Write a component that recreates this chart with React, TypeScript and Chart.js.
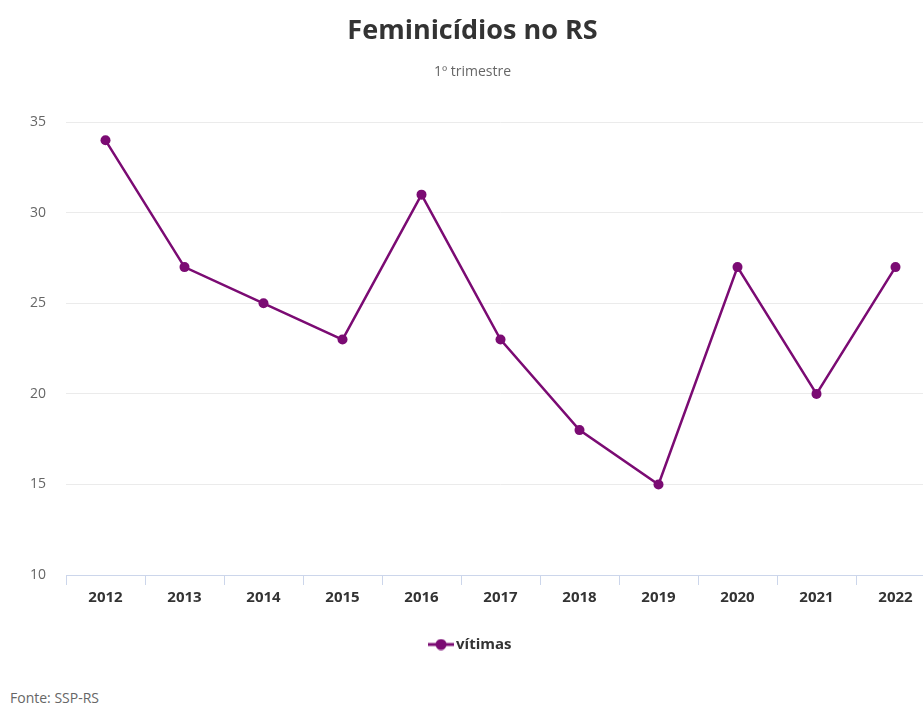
import React, { useEffect, useRef } from "react";
import { Chart, registerables } from "chart.js";

Chart.register(...registerables);

const years = ["2012", "2013", "2014", "2015", "2016", "2017", "2018", "2019", "2020", "2021", "2022"];
const victims = [34, 27, 25, 23, 31, 23, 18, 15, 27, 20, 27];
const yTicks = [10, 15, 20, 25, 30, 35];

const PURPLE = "#7b0b73";

function legendMarker(): HTMLCanvasElement {
  const c = document.createElement("canvas");
  c.width = 26;
  c.height = 12;
  const ctx = c.getContext("2d")!;
  ctx.strokeStyle = PURPLE;
  ctx.lineWidth = 3;
  ctx.beginPath();
  ctx.moveTo(0, 6);
  ctx.lineTo(26, 6);
  ctx.stroke();
  ctx.fillStyle = PURPLE;
  ctx.beginPath();
  ctx.arc(13, 6, 5.5, 0, Math.PI * 2);
  ctx.fill();
  return c;
}

export default function App() {
  const ref = useRef<HTMLCanvasElement | null>(null);

  useEffect(() => {
    if (!ref.current) return;
    const marker = legendMarker();
    const chart = new Chart(ref.current, {
      type: "line",
      data: {
        labels: years,
        datasets: [
          {
            label: "vítimas",
            data: victims,
            borderColor: PURPLE,
            backgroundColor: PURPLE,
            borderWidth: 2.5,
            pointRadius: 5,
            pointBackgroundColor: PURPLE,
            pointBorderWidth: 0,
            tension: 0,
          },
        ],
      },
      options: {
        responsive: false,
        animation: false,
        layout: { padding: { left: 10, right: 25, top: 3, bottom: 0 } },
        plugins: {
          title: {
            display: true,
            text: "Feminicídios no RS",
            color: "#333333",
            font: { family: "'Open Sans'", size: 27, weight: "bold" },
            padding: { top: 12, bottom: 16 },
          },
          subtitle: {
            display: true,
            text: "1º trimestre",
            color: "#666666",
            font: { family: "'Open Sans'", size: 14 },
            padding: { top: 0, bottom: 42 },
          },
          legend: {
            position: "bottom",
            labels: {
              usePointStyle: true,
              color: "#333333",
              font: { family: "'Open Sans'", size: 15, weight: "bold" },
              padding: 26,
              generateLabels: (ch: any) =>
                ch.data.datasets.map((ds: any, i: number) => ({
                  text: ds.label,
                  fontColor: "#333333",
                  pointStyle: marker,
                  datasetIndex: i,
                  hidden: false,
                  lineWidth: 0,
                })),
            },
          },
          tooltip: { enabled: false },
        },
        scales: {
          x: {
            offset: true,
            grid: {
              display: true,
              drawOnChartArea: false,
              drawTicks: true,
              tickLength: 10,
              color: "#ccd6eb",
              offset: true,
            },
            border: { display: true, color: "#ccd6eb", width: 1 },
            ticks: {
              color: "#333333",
              font: { family: "'Open Sans'", size: 15, weight: "bold" },
              padding: 4,
              maxRotation: 0,
              autoSkip: false,
            },
          },
          y: {
            min: yTicks[0],
            max: yTicks[yTicks.length - 1],
            afterBuildTicks: (axis: any) => {
              axis.ticks = yTicks.map((v) => ({ value: v }));
            },
            grid: { color: "#ebebeb", drawTicks: false, lineWidth: 1 },
            border: { display: false },
            ticks: {
              color: "#666666",
              font: { family: "'Open Sans'", size: 14 },
              padding: 20,
            },
          },
        },
      },
    });
    return () => chart.destroy();
  }, []);

  return (
    <div
      style={{
        position: "absolute",
        left: 0,
        top: 0,
        width: 923,
        height: 704,
        overflow: "hidden",
        background: "#ffffff",
      }}
    >
      <canvas ref={ref} width={960} height={662} style={{ display: "block" }} />
      <div
        style={{
          position: "absolute",
          left: 10,
          top: 689,
          fontFamily: "'Open Sans'",
          fontSize: 14,
          color: "#666666",
          lineHeight: "18px",
        }}
      >
        Fonte: SSP-RS
      </div>
    </div>
  );
}
